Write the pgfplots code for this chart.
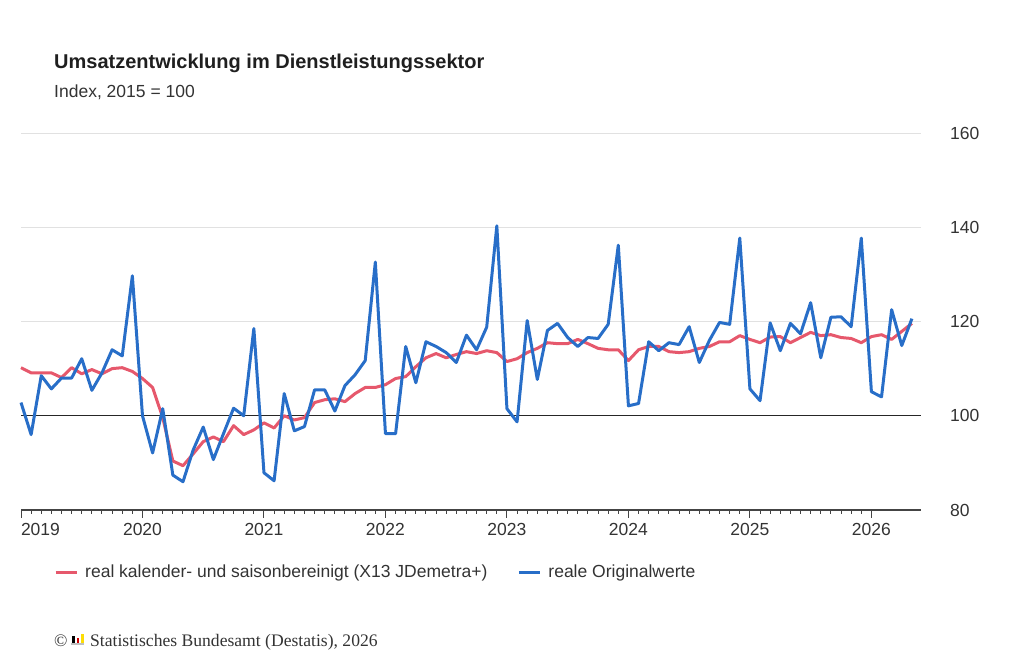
\documentclass[border=0pt]{standalone}
\usepackage{fontspec}
\setmainfont{Liberation Sans}
\newfontfamily\seriffont{Liberation Serif}
\usepackage{pgfplots}
\pgfplotsset{compat=1.18}
\usepackage{pgfplotstable}
\definecolor{cred}{RGB}{230,88,108}
\definecolor{cblue}{RGB}{40,110,200}
\definecolor{ctext}{RGB}{51,51,51}
\definecolor{cgrid}{RGB}{225,225,225}
\definecolor{caxis}{RGB}{68,68,68}

\pgfplotstableread{
x y
0 102.8
1 96.0
2 108.5
3 105.7
4 108.0
5 108.0
6 112.1
7 105.4
8 109.1
9 114.0
10 112.7
11 129.7
12 100.0
13 92.1
14 101.5
15 87.4
16 86.0
17 92.7
18 97.6
19 90.7
20 96.2
21 101.6
22 100.0
23 118.5
24 87.9
25 86.2
26 104.7
27 96.8
28 97.7
29 105.5
30 105.5
31 101.0
32 106.4
33 108.7
34 111.7
35 132.6
36 96.2
37 96.2
38 114.7
39 107.0
40 115.7
41 114.7
42 113.4
43 111.3
44 117.1
45 114.0
46 118.8
47 140.3
48 101.5
49 98.7
50 120.2
51 107.7
52 118.1
53 119.6
54 116.6
55 114.7
56 116.6
57 116.4
58 119.4
59 136.2
60 102.1
61 102.6
62 115.7
63 113.8
64 115.5
65 115.1
66 118.9
67 111.3
68 116.0
69 119.8
70 119.4
71 137.7
72 105.7
73 103.2
74 119.7
75 113.8
76 119.6
77 117.4
78 124.0
79 112.3
80 120.9
81 121.0
82 118.9
83 137.7
84 105.1
85 104.0
86 122.5
87 114.9
88 120.6
}\orig

\pgfplotstableread{
x y
0 110.2
1 109.1
2 109.1
3 109.1
4 108.1
5 110.2
6 108.9
7 109.8
8 108.9
9 110.0
10 110.2
11 109.4
12 107.9
13 106.0
14 99.6
15 90.4
16 89.4
17 91.9
18 94.5
19 95.5
20 94.5
21 97.9
22 96.0
23 97.0
24 98.5
25 97.4
26 100.0
27 99.1
28 99.6
29 102.8
30 103.4
31 103.6
32 103.0
33 104.7
34 106.0
35 106.0
36 106.6
37 107.9
38 108.3
39 110.4
40 112.3
41 113.2
42 112.3
43 113.0
44 113.6
45 113.2
46 113.8
47 113.4
48 111.5
49 112.1
50 113.4
51 114.3
52 115.5
53 115.3
54 115.3
55 116.2
56 115.3
57 114.3
58 114.0
59 114.0
60 111.7
61 114.0
62 114.7
63 114.7
64 113.6
65 113.4
66 113.6
67 114.3
68 114.7
69 115.7
70 115.7
71 117.0
72 116.2
73 115.5
74 116.7
75 116.8
76 115.5
77 116.6
78 117.7
79 117.0
80 117.2
81 116.6
82 116.4
83 115.5
84 116.8
85 117.2
86 116.2
87 117.9
88 119.6
}\sa

\begin{document}
\begin{tikzpicture}
\path[use as bounding box] (0,0) rectangle (1024bp,667bp);
\begin{axis}[
  at={(21bp,157bp)}, anchor=south west,
  scale only axis, width=900bp, height=377bp,
  xmin=0, xmax=88.9, ymin=80, ymax=160,
  /pgf/number format/assume math mode=true,
  axis x line*=bottom, axis y line*=right,
  x axis line style={draw=caxis, line width=1.2bp, -},
  y axis line style={draw=none},
  xtick={0,12,24,36,48,60,72,84},
  xticklabels={\makebox[0pt][l]{2019},2020,2021,2022,2023,2024,2025,2026},
  minor x tick num=11,
  tick align=outside,
  major tick length=8bp, minor tick length=4bp,
  x tick style={draw=caxis, line width=1bp},
  ytick={80,100,120,140,160},
  y tick style={draw=none},
  ymajorgrids, grid style={draw=cgrid, line width=1bp},
  extra y ticks={100}, extra y tick labels={},
  extra y tick style={grid style={draw=black!85, line width=1.2bp}},
  xticklabel style={font=\fontsize{17.5bp}{20bp}\selectfont, text=ctext, anchor=north, inner sep=0pt, yshift=-5bp},
  yticklabel style={font=\fontsize{17.5bp}{20bp}\selectfont, text=ctext, anchor=west, inner sep=0pt, xshift=21bp},
  clip=false,
  legend columns=2,
  legend style={at={(0.0367,-0.1645)}, anchor=west, draw=none, fill=none,
    font=\fontsize{17.5bp}{20bp}\selectfont, text=ctext, inner sep=0pt,
    nodes={inner sep=0pt},
    /tikz/every odd column/.style={column sep=7bp},
    /tikz/every even column/.style={column sep=30bp}},
  legend cell align=left,
  legend image code/.code={\draw[#1, line width=3bp] (0bp,0bp) -- (21bp,0bp);},
]
\addplot[cred, line width=3bp, line join=round] table[x=x,y=y] {\sa};
\addlegendentry{real kalender- und saisonbereinigt (X13 JDemetra+)}
\addplot[cblue, line width=3bp, line join=round] table[x=x,y=y] {\orig};
\addlegendentry{reale Originalwerte}
\end{axis}
\node[anchor=base west, inner sep=0pt, text=black!88, font=\fontsize{20bp}{24bp}\selectfont\bfseries] at (54bp,598.5bp) {Umsatzentwicklung im Dienstleistungssektor};
\node[anchor=base west, inner sep=0pt, text=ctext, font=\fontsize{17.5bp}{21bp}\selectfont] at (54bp,569bp) {Index, 2015 = 100};
\node[anchor=base west, inner sep=0pt, text=ctext, font=\fontsize{17.6bp}{21bp}\seriffont] at (54bp,21bp) {©};
\fill[black!25] (71bp,22bp) rectangle (84bp,24bp);
\fill[black] (72bp,24bp) rectangle (74.5bp,31bp);
\fill[red!80!black] (76.5bp,24bp) rectangle (79bp,28.5bp);
\fill[yellow!80!orange] (81bp,24bp) rectangle (83.5bp,33bp);
\node[anchor=base west, inner sep=0pt, text=ctext, font=\fontsize{17.6bp}{21bp}\seriffont] at (90bp,21bp) {Statistisches Bundesamt (Destatis), 2026};
\end{tikzpicture}
\end{document}
